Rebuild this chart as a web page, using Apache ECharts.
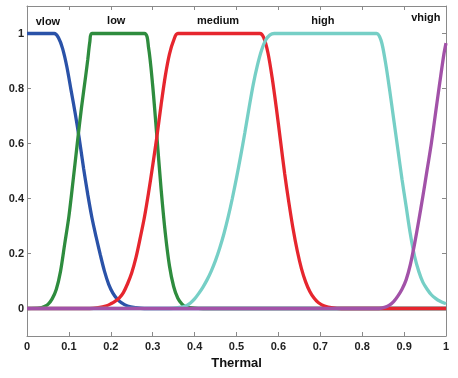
<!DOCTYPE html>
<html>
<head>
<meta charset="utf-8">
<script src="https://cdn.jsdelivr.net/npm/echarts@6/dist/echarts.min.js"></script>
<style>
html,body{margin:0;padding:0;background:#fff;}
#c{width:458px;height:378px;}
</style>
</head>
<body>
<div id="c"></div>
<script>
// ---- data ----
const vlowX = [0, 0.065, 0.075, 0.085, 0.095, 0.105, 0.115, 0.125, 0.135, 0.145, 0.155, 0.165, 0.175, 0.185, 0.195, 0.205, 0.215, 0.225, 0.24, 0.26, 0.28, 1];
const vlowY = [1, 1, 0.985, 0.945, 0.88, 0.795, 0.71, 0.615, 0.51, 0.415, 0.33, 0.26, 0.195, 0.135, 0.088, 0.056, 0.035, 0.021, 0.009, 0.003, 0, 0];

const lowX = [0, 0.03, 0.04, 0.05, 0.06, 0.07, 0.08, 0.09, 0.10, 0.11, 0.12, 0.13, 0.14, 0.145, 0.15, 0.155, 0.28, 0.29, 0.30, 0.31, 0.32, 0.33, 0.34, 0.35, 0.36, 0.37, 0.38, 0.40, 0.42, 1];
const lowY = [0, 0.002, 0.006, 0.015, 0.035, 0.07, 0.135, 0.235, 0.335, 0.465, 0.6, 0.73, 0.845, 0.905, 0.97, 1, 1, 0.95, 0.81, 0.625, 0.435, 0.275, 0.155, 0.08, 0.037, 0.016, 0.006, 0.001, 0, 0];

const mediumX = [0, 0.15, 0.17, 0.19, 0.20, 0.21, 0.22, 0.23, 0.24, 0.25, 0.26, 0.27, 0.28, 0.29, 0.30, 0.31, 0.32, 0.33, 0.34, 0.35, 0.36, 0.556, 0.565, 0.575, 0.585, 0.595, 0.605, 0.615, 0.625, 0.635, 0.645, 0.655, 0.665, 0.675, 0.685, 0.695, 0.71, 0.73, 0.75, 1];
const mediumY = [0, 0, 0.003, 0.01, 0.017, 0.026, 0.038, 0.058, 0.09, 0.13, 0.185, 0.255, 0.33, 0.42, 0.52, 0.625, 0.74, 0.845, 0.925, 0.975, 1, 1, 0.985, 0.93, 0.84, 0.73, 0.61, 0.49, 0.385, 0.29, 0.21, 0.145, 0.097, 0.062, 0.038, 0.022, 0.009, 0.002, 0, 0];

const highX = [0, 0.34, 0.36, 0.38, 0.39, 0.40, 0.41, 0.42, 0.43, 0.44, 0.45, 0.46, 0.47, 0.48, 0.49, 0.50, 0.51, 0.52, 0.53, 0.54, 0.55, 0.56, 0.57, 0.58, 0.59, 0.834, 0.845, 0.855, 0.865, 0.875, 0.885, 0.895, 0.905, 0.915, 0.925, 0.935, 0.945, 0.955, 0.965, 0.975, 0.985, 1];
const highY = [0, 0, 0.003, 0.01, 0.02, 0.035, 0.055, 0.078, 0.105, 0.137, 0.175, 0.22, 0.272, 0.332, 0.40, 0.475, 0.555, 0.64, 0.73, 0.815, 0.885, 0.94, 0.977, 0.995, 1, 1, 0.975, 0.9, 0.8, 0.69, 0.58, 0.47, 0.37, 0.27, 0.19, 0.135, 0.095, 0.07, 0.05, 0.037, 0.027, 0.017];

const vhighX = [0, 0.84, 0.855, 0.865, 0.875, 0.885, 0.895, 0.905, 0.915, 0.925, 0.935, 0.945, 0.955, 0.965, 0.975, 0.985, 0.995, 1];
const vhighY = [0, 0, 0.005, 0.012, 0.025, 0.045, 0.07, 0.105, 0.16, 0.235, 0.32, 0.41, 0.505, 0.6, 0.71, 0.82, 0.925, 0.965];

const termNames = ['vlow', 'low', 'medium', 'high', 'vhigh'];
const termLabelX = [0.05, 0.213, 0.456, 0.706, 0.952];
const termLabelY = [1.042, 1.044, 1.044, 1.046, 1.056];

const xTicks = [0, 0.1, 0.2, 0.3, 0.4, 0.5, 0.6, 0.7, 0.8, 0.9, 1];
const yTicks = [0, 0.2, 0.4, 0.6, 0.8, 1];
const xName = 'Thermal';

// ---- chart ----
const zip = (xs, ys) => xs.map((x, i) => [x, ys[i]]);
const FONT = 'Liberation Sans, Arial, Helvetica, sans-serif';
const AX = '#8a8a8a';
const colors = ['#2a52a8', '#2e8c3e', '#e6262e', '#76cfc6', '#a252a8'];
const curves = [[vlowX, vlowY], [lowX, lowY], [mediumX, mediumY], [highX, highY], [vhighX, vhighY]];

const chart = echarts.init(document.getElementById('c'), null, {renderer: 'canvas'});

const lineSeries = curves.map((c, i) => ({
  type: 'line',
  name: termNames[i],
  data: zip(c[0], c[1]),
  showSymbol: false,
  symbol: 'none',
  smooth: 0.3,
  lineStyle: {color: colors[i], width: 3.3},
  itemStyle: {color: colors[i]},
  z: 2 + i,
  animation: false
}));

const labelSeries = {
  type: 'scatter',
  symbolSize: 0,
  silent: true,
  animation: false,
  z: 20,
  itemStyle: {opacity: 1},
  data: termNames.map((n, i) => ({name: n, value: [termLabelX[i], termLabelY[i]]})),
  label: {
    show: true,
    position: 'inside',
    formatter: '{b}',
    color: '#111',
    opacity: 1,
    fontFamily: FONT,
    fontWeight: 'bold',
    fontSize: 11,
    align: 'center',
    verticalAlign: 'middle'
  }
};

const tickStyle = {inside: true, length: 4, lineStyle: {color: AX, width: 1}};

chart.setOption({
  backgroundColor: '#fff',
  animation: false,
  grid: {left: 27, right: 12, top: 6, bottom: 42, containLabel: false},
  xAxis: [{
    type: 'value', min: 0, max: 1, position: 'bottom',
    name: xName, nameLocation: 'middle', nameGap: 17,
    nameTextStyle: {fontFamily: FONT, fontWeight: 'bold', fontSize: 13, color: '#111'},
    axisLine: {show: true, onZero: false, lineStyle: {color: AX, width: 1}},
    axisTick: Object.assign({customValues: xTicks}, tickStyle),
    axisLabel: {customValues: xTicks, margin: 5, fontFamily: FONT, fontWeight: 'bold', fontSize: 11, color: '#222'},
    splitLine: {show: false}
  }, {
    type: 'value', min: 0, max: 1, position: 'top',
    axisLine: {show: true, onZero: false, lineStyle: {color: AX, width: 1}},
    axisTick: Object.assign({customValues: xTicks}, tickStyle),
    axisLabel: {show: false},
    splitLine: {show: false}
  }],
  yAxis: [{
    type: 'value', min: -0.1, max: 1.1, position: 'left',
    axisLine: {show: true, onZero: false, lineStyle: {color: AX, width: 1}},
    axisTick: Object.assign({customValues: yTicks}, tickStyle),
    axisLabel: {customValues: yTicks, margin: 3, fontFamily: FONT, fontWeight: 'bold', fontSize: 11, color: '#222'},
    splitLine: {show: false}
  }, {
    type: 'value', min: -0.1, max: 1.1, position: 'right',
    axisLine: {show: true, onZero: false, lineStyle: {color: AX, width: 1}},
    axisTick: Object.assign({customValues: yTicks}, tickStyle),
    axisLabel: {show: false},
    splitLine: {show: false}
  }],
  series: lineSeries.concat([labelSeries])
});
</script>
</body>
</html>
